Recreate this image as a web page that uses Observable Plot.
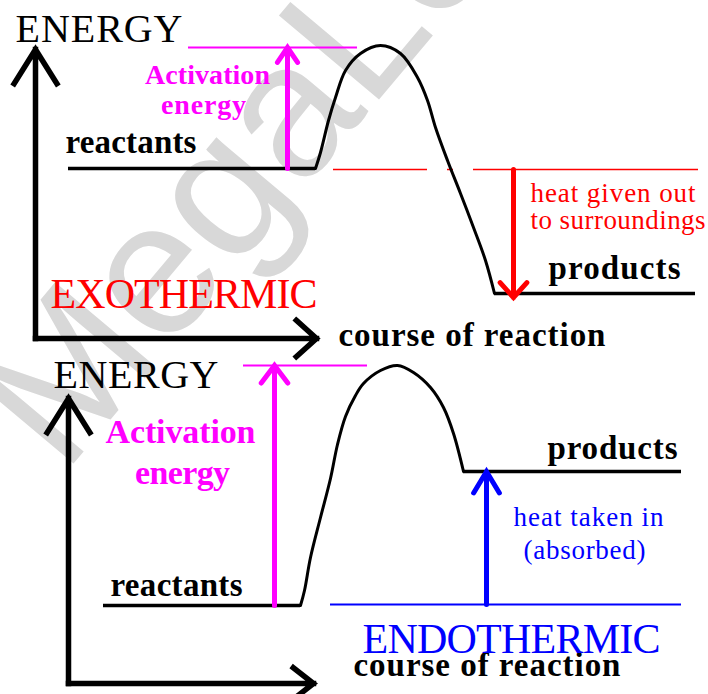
<!DOCTYPE html>
<html>
<head>
<meta charset="utf-8">
<script src="https://cdn.jsdelivr.net/npm/d3@7"></script>
<script src="https://cdn.jsdelivr.net/npm/@observablehq/plot@0.6"></script>
<style>
  html, body { margin: 0; padding: 0; background: #fff; overflow: hidden; }
  #chart svg { display: block; }
</style>
</head>
<body>
<div id="chart"></div>
<script>
// ---------------- data (x = course of reaction, e = energy) ----------------
const panels = ["EXOTHERMIC", "ENDOTHERMIC"];
const levelNames = ["reactants", "products"];
const axisNames = ["ENERGY", "course of reaction"];
const activationText = ["Activation", "energy"];
const exoHeatText = ["heat given out", "to surroundings"];
const endoHeatText = ["heat taken in", "(absorbed)"];
const watermark = ["MegaLecture"];

// energy profile of the exothermic reaction (hump between the two levels)
const exoHump = [[315,526],[320,542],[328,574],[335,597],[345,624],[360,641],[380,649],[400,641],
                 [417,617],[427,594],[435,567],[447,534],[460,501],[473,467],[485,434],[494,401]];
// energy profile of the endothermic reaction
const endoHump = [[300,89],[304,104],[310,137],[320,177],[330,216],[337,250],[345,278],[355,299],
                  [363,311],[380,324],[397,329],[413,322],[430,307],[443,287],[453,261],[463,223]];

// energy levels: [x start, x end, energy]
const exoLevels = [[68,315,526],[494,695,401]];
const endoLevels = [[103,300,89],[463,681,223]];
// reference lines: [x start, x end, energy]
const exoPeakRef = [[188,357,647]];
const exoReactRef = [[333,427,525],[447,453,525],[473,698,525]];
const endoPeakRef = [[243,367,329]];
const endoReactRef = [[330,681,90]];
// axes: [x1, e1, x2, e2]
const exoAxes = [[35,356,35,645],[35,356,316,356]];
const endoAxes = [[68,11,68,296],[68,11,313,11]];
// arrows: [x, e from, e to]
const exoActivation = [[287,526,647]];
const exoHeat = [[513,525,397]];
const endoActivation = [[274,89,329]];
const endoHeat = [[486,90,223]];

// ---------------- helpers ----------------
const serif = "Liberation Serif, Times New Roman, serif";
const seg = (rows) => rows.map(([x1, x2, e]) => ({x1, x2, e}));
const pts = (rows) => rows.map(([x, e]) => ({x, e}));

function arrowMark(rows, o) {
  return Plot.arrow(rows.map(r => r.length === 4 ? {x1:r[0], y1:r[1], x2:r[2], y2:r[3]} : {x1:r[0], y1:r[1], x2:r[0], y2:r[2]}),
    {x1:"x1", y1:"y1", x2:"x2", y2:"y2", strokeLinejoin:"miter", strokeMiterlimit: 10, ...o});
}
const targetWidths = [];   // widths the labels have in the picture, in render order
const middleFlags = [];
function label(rows, o) {
  rows.forEach(r => { targetWidths.push(r[3]); middleFlags.push(o.textAnchor === "middle"); });
  return Plot.text(rows.map(([t, x, e]) => ({t, x, e})),
    {x:"x", y:"e", text:"t", lineAnchor:"bottom", textAnchor:"start", fontFamily: serif, ...o});
}

const marks = [
  // watermark
  Plot.text(watermark, {x: 63, y: 219, text: d => d, rotate: -50, fontSize: 190, fill: "#d8d8d8",
    fontFamily: "Liberation Sans, Arial, sans-serif", textAnchor: "start", lineAnchor: "bottom"}),

  // reference lines
  Plot.ruleY(seg(exoPeakRef), {x1:"x1", x2:"x2", y:"e", stroke:"#ff00ff", strokeWidth: 2}),
  Plot.ruleY(seg(endoPeakRef), {x1:"x1", x2:"x2", y:"e", stroke:"#ff00ff", strokeWidth: 2}),
  Plot.ruleY(seg(exoReactRef), {x1:"x1", x2:"x2", y:"e", stroke:"#ff0000", strokeWidth: 1.5}),
  Plot.ruleY(seg(endoReactRef), {x1:"x1", x2:"x2", y:"e", stroke:"#0000ff", strokeWidth: 2}),

  // energy levels and profiles
  Plot.ruleY(seg(exoLevels), {x1:"x1", x2:"x2", y:"e", stroke:"#000", strokeWidth: 3.5}),
  Plot.ruleY(seg(endoLevels), {x1:"x1", x2:"x2", y:"e", stroke:"#000", strokeWidth: 3.5}),
  Plot.line(pts(exoHump), {x:"x", y:"e", curve:"catmull-rom", stroke:"#000", strokeWidth: 3}),
  Plot.line(pts(endoHump), {x:"x", y:"e", curve:"catmull-rom", stroke:"#000", strokeWidth: 3}),

  // axes
  arrowMark([exoAxes[0]], {stroke:"#000", strokeWidth: 5.5, headAngle: 64, headLength: 11, strokeLinecap:"square"}),
  arrowMark([exoAxes[1]], {stroke:"#000", strokeWidth: 5.5, headAngle: 84, headLength: 7.4, strokeLinecap:"square"}),
  arrowMark([endoAxes[0]], {stroke:"#000", strokeWidth: 5.5, headAngle: 64, headLength: 11, strokeLinecap:"square"}),
  arrowMark([endoAxes[1]], {stroke:"#000", strokeWidth: 5.5, headAngle: 76, headLength: 7, strokeLinecap:"square"}),

  // process arrows
  arrowMark(exoActivation, {stroke:"#ff00ff", strokeWidth: 5, headAngle: 68, headLength: 5.4}),
  arrowMark(exoHeat, {stroke:"#ff0000", strokeWidth: 5, headAngle: 84, headLength: 6}),
  arrowMark(endoActivation, {stroke:"#ff00ff", strokeWidth: 5, headAngle: 74, headLength: 6.6}),
  arrowMark(endoHeat, {stroke:"#0000ff", strokeWidth: 5, headAngle: 62, headLength: 7.5}),

  // texts: [text, x, baseline energy, width in the picture]
  label([[axisNames[0], 15, 653, 167], [axisNames[0], 53, 307, 165]], {fontSize: 40, fill: "#000"}),
  label([[axisNames[1], 338, 349, 267], [axisNames[1], 353, 19, 267],
         [levelNames[0], 65, 542, 131], [levelNames[0], 110, 99, 132],
         [levelNames[1], 548, 416, 132], [levelNames[1], 547, 236, 130]],
        {fontSize: 33, fontWeight: "bold", fill: "#000"}),
  label([[activationText[0], 207, 611, 125], [activationText[1], 203, 581, 85]],
        {fontSize: 28, fontWeight: "bold", fill: "#ff00ff", textAnchor: "middle"}),
  label([[activationText[0], 180, 252, 150], [activationText[1], 182, 211, 95]],
        {fontSize: 34, fontWeight: "bold", fill: "#ff00ff", textAnchor: "middle"}),
  label([[panels[0], 50, 387, 267]], {fontSize: 42, fill: "#ff0000"}),
  label([[panels[1], 362, 42, 298]], {fontSize: 42, fill: "#0000ff"}),
  label([[exoHeatText[0], 530, 493, 165], [exoHeatText[1], 530, 466, 175]], {fontSize: 27, fill: "#ff0000"}),
  label([[endoHeatText[0], 513, 169, 150], [endoHeatText[1], 523, 136, 122]], {fontSize: 27, fill: "#0000ff"})
];

const svg = Plot.plot({
  width: 708, height: 694, margin: 0,
  x: {domain: [0, 708], range: [0, 708], axis: null},
  y: {domain: [0, 694], range: [694, 0], axis: null},
  style: {background: "#fff", overflow: "hidden"},
  marks
});
document.getElementById("chart").appendChild(svg);

// spread each label so it spans the width it has in the picture
const labelEls = Array.from(svg.querySelectorAll("text")).filter(el => !watermark.includes(el.textContent));
labelEls.forEach((el, i) => {
  const w = targetWidths[i];
  if (!w) return;
  const natural = el.getComputedTextLength();
  const n = el.textContent.length;
  const ls = (w - natural) / Math.max(1, n - 1);
  el.style.letterSpacing = ls.toFixed(2) + "px";
  if (middleFlags[i]) el.setAttribute("dx", (ls / 2).toFixed(2));
});
</script>
</body>
</html>
